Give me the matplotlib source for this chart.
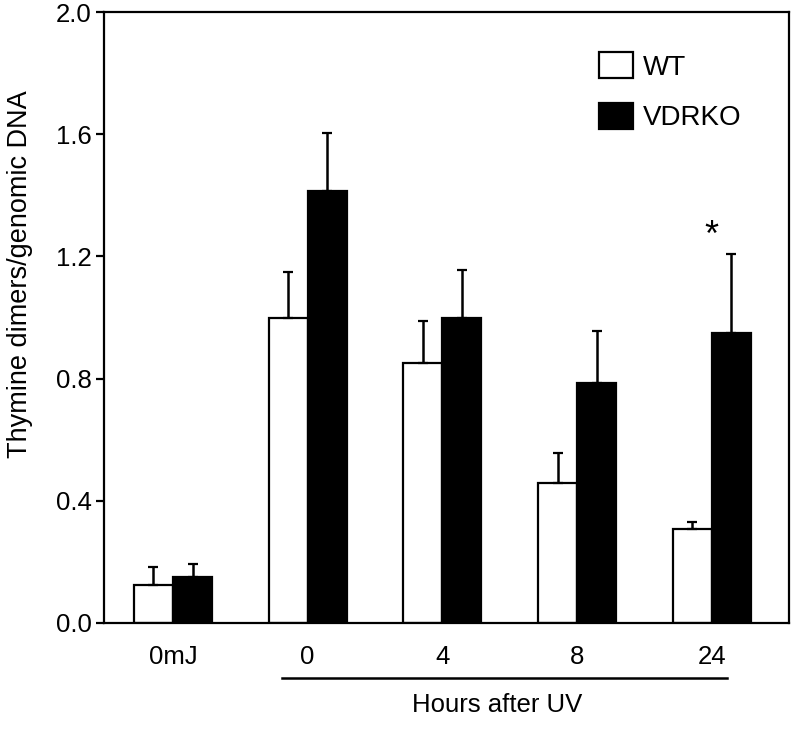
import numpy as np
import matplotlib
matplotlib.use('Agg')
import matplotlib.pyplot as plt
from matplotlib.patches import Patch
import matplotlib.transforms as mtransforms

plt.rcParams['font.family'] = ['Liberation Sans', 'DejaVu Sans']

groups = ['0mJ', '0', '4', '8', '24']
wt_mean = [0.124, 0.998, 0.851, 0.458, 0.308]
wt_err = [0.059, 0.151, 0.138, 0.098, 0.023]
ko_mean = [0.151, 1.414, 0.998, 0.786, 0.949]
ko_err = [0.042, 0.190, 0.158, 0.170, 0.259]
yticks = [0.0, 0.4, 0.8, 1.2, 1.6, 2.0]

fig = plt.figure(figsize=(8, 7.3), dpi=100)
ax = fig.add_axes([104 / 800, 107 / 730, 685 / 800, 611 / 730])

x = np.arange(len(groups))
w = 0.29
err_kw = dict(elinewidth=1.8, capsize=3.5, capthick=1.6, ecolor='black')
ax.bar(x - w / 2, wt_mean, w, color='white', edgecolor='black', linewidth=1.6,
       yerr=[np.zeros(len(groups)), wt_err], error_kw=err_kw, label='WT', zorder=2)
ax.bar(x + w / 2, ko_mean, w, color='black', edgecolor='black', linewidth=1.6,
       yerr=[np.zeros(len(groups)), ko_err], error_kw=err_kw, label='VDRKO', zorder=2)

ax.set_xlim(-0.512, 4.573)
ax.set_ylim(0, 2.0)
ax.set_yticks(yticks)
ax.set_yticklabels([f'{v:.1f}' for v in yticks])
ax.set_xticks(x)
ax.set_xticklabels(groups)
ax.tick_params(axis='x', length=0, pad=16, labelsize=18.5)
ax.tick_params(axis='y', length=6, width=1.6, pad=3, labelsize=18.5)
for s in ax.spines.values():
    s.set_linewidth(1.6)

# line under the hour groups
trans = mtransforms.blended_transform_factory(ax.transData, ax.transAxes)
ax.plot([0.81, 4.11], [-0.09, -0.09], color='black', lw=1.8,
        transform=trans, clip_on=False)
ax.text(2.405, -0.134, 'Hours after UV', transform=trans, ha='center',
        va='center', fontsize=18.5)

# significance mark
ax.text(4.0, 1.265, '*', ha='center', va='center', fontsize=26)

fig.text(20 / 800, (730 - 274) / 730, 'Thymine dimers/genomic DNA',
         rotation=90, ha='center', va='center', fontsize=19.5)

handles = [Patch(facecolor='white', edgecolor='black', linewidth=1.6, label='WT'),
           Patch(facecolor='black', edgecolor='black', linewidth=1.6, label='VDRKO')]
ax.legend(handles=handles, loc='upper left', bbox_to_anchor=(0.722, 0.934),
          frameon=False, fontsize=20, handlelength=1.25, handleheight=1.05,
          handletextpad=0.35, labelspacing=0.8, borderpad=0, borderaxespad=0)

fig.savefig('out.png', dpi=100)
